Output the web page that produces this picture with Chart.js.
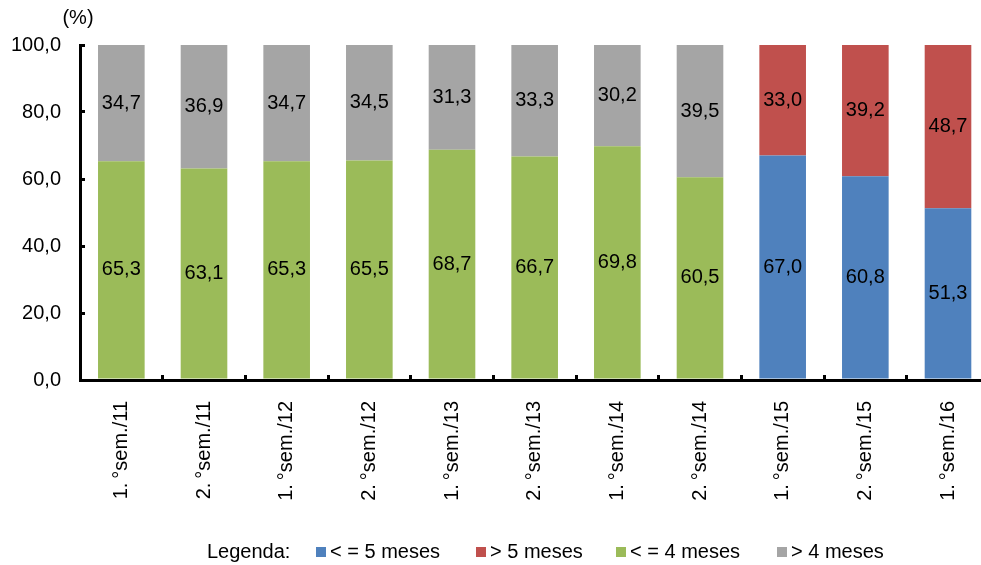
<!DOCTYPE html>
<html>
<head>
<meta charset="utf-8">
<script src="https://cdn.jsdelivr.net/npm/chart.js@4/dist/chart.umd.min.js"></script>
<style>
  html, body { margin: 0; padding: 0; overflow: hidden; background: #fff; }
  canvas { display: block; }
</style>
</head>
<body>
<canvas id="chart" width="998" height="565"></canvas>
<script>
// Semesters on the category axis
const semesters = [
  '1.\u2009°sem./11', '2.\u2009°sem./11', '1.\u2009°sem./12', '2.\u2009°sem./12', '1.\u2009°sem./13',
  '2.\u2009°sem./13', '1.\u2009°sem./14', '2.\u2009°sem./14', '1.\u2009°sem./15', '2.\u2009°sem./15',
  '1.\u2009°sem./16'
];

// Share of each duration band (%), per semester
const upTo5Months = [null, null, null, null, null, null, null, null, 67.0, 60.8, 51.3];
const over5Months = [null, null, null, null, null, null, null, null, 33.0, 39.2, 48.7];
const upTo4Months = [65.3, 63.1, 65.3, 65.5, 68.7, 66.7, 69.8, 60.5, null, null, null];
const over4Months = [34.7, 36.9, 34.7, 34.5, 31.3, 33.3, 30.2, 39.5, null, null, null];

const seriesNames = ['< = 5 meses', '> 5 meses', '< = 4 meses', '> 4 meses'];
const yTickValues = [0, 20, 40, 60, 80, 100];
const legendTitle = 'Legenda:';
const unitLabel = '(%)';

const FONT_FAMILY = "'Liberation Sans', Arial, sans-serif";
const FONT_SIZE = 20;
const fmt = v => v.toFixed(1).replace('.', ',');

// Value written in the middle of every stacked segment
const segmentLabels = {
  id: 'segmentLabels',
  afterDatasetsDraw(chart) {
    const ctx = chart.ctx;
    ctx.save();
    ctx.font = FONT_SIZE + 'px ' + FONT_FAMILY;
    ctx.fillStyle = '#000';
    ctx.textAlign = 'center';
    ctx.textBaseline = 'middle';
    chart.data.datasets.forEach((ds, di) => {
      const meta = chart.getDatasetMeta(di);
      meta.data.forEach((el, i) => {
        const v = ds.data[i];
        if (v === null || v === undefined) return;
        ctx.fillText(fmt(v), el.x, (el.y + el.base) / 2);
      });
    });
    ctx.restore();
  }
};

// Unit caption above the value axis and the one-line legend at the bottom
const captionAndLegend = {
  id: 'captionAndLegend',
  afterDraw(chart, args, opts) {
    const ctx = chart.ctx;
    ctx.save();
    ctx.font = FONT_SIZE + 'px ' + FONT_FAMILY;
    ctx.fillStyle = '#000';
    ctx.textBaseline = 'middle';
    ctx.textAlign = 'center';
    ctx.fillText(unitLabel, opts.unitX, opts.unitY);

    ctx.textAlign = 'left';
    const y = opts.legendY;
    ctx.fillText(legendTitle, opts.titleX, y);
    chart.data.datasets.forEach((ds, i) => {
      const x = opts.itemX[i];
      ctx.fillStyle = ds.backgroundColor;
      ctx.fillRect(x, y - opts.box / 2, opts.box, opts.box);
      ctx.fillStyle = '#000';
      ctx.fillText(ds.label, x + opts.box + 4, y);
    });
    ctx.restore();
  }
};

const axisGrid = {
  drawOnChartArea: false,
  drawTicks: true,
  tickLength: -5,
  lineWidth: 3,
  color: '#000'
};

new Chart(document.getElementById('chart'), {
  type: 'bar',
  data: {
    labels: semesters,
    datasets: [
      { label: seriesNames[0], data: upTo5Months, backgroundColor: '#4F81BD' },
      { label: seriesNames[1], data: over5Months, backgroundColor: '#C0504D' },
      { label: seriesNames[2], data: upTo4Months, backgroundColor: '#9BBB59' },
      { label: seriesNames[3], data: over4Months, backgroundColor: '#A5A5A5' }
    ]
  },
  options: {
    responsive: false,
    animation: false,
    devicePixelRatio: 1,
    layout: { padding: { top: 45, left: 0, right: 0, bottom: 0 } },
    datasets: {
      bar: { barPercentage: 0.564, categoryPercentage: 1.0, borderWidth: 0 }
    },
    scales: {
      x: {
        stacked: true,
        grid: Object.assign({ offset: true }, axisGrid),
        border: { display: true, color: '#000', width: 3 },
        ticks: {
          color: '#000',
          font: { family: FONT_FAMILY, size: FONT_SIZE },
          minRotation: 90,
          maxRotation: 90,
          padding: 26,
          autoSkip: false
        },
        afterFit(scale) { scale.height = 185; }
      },
      y: {
        stacked: true,
        min: 0,
        max: 100,
        grid: axisGrid,
        border: { display: true, color: '#000', width: 3 },
        afterBuildTicks(scale) {
          scale.ticks = yTickValues.map(v => ({ value: v }));
        },
        ticks: {
          color: '#000',
          font: { family: FONT_FAMILY, size: FONT_SIZE },
          padding: 24,
          callback: v => fmt(v)
        },
        afterFit(scale) { scale.width = 80; }
      }
    },
    plugins: {
      legend: { display: false },
      tooltip: { enabled: false },
      captionAndLegend: {
        unitX: 78,
        unitY: 18,
        legendY: 552,
        titleX: 207,
        itemX: [316, 476, 616, 777],
        box: 10
      }
    }
  },
  plugins: [segmentLabels, captionAndLegend]
});
</script>
</body>
</html>
